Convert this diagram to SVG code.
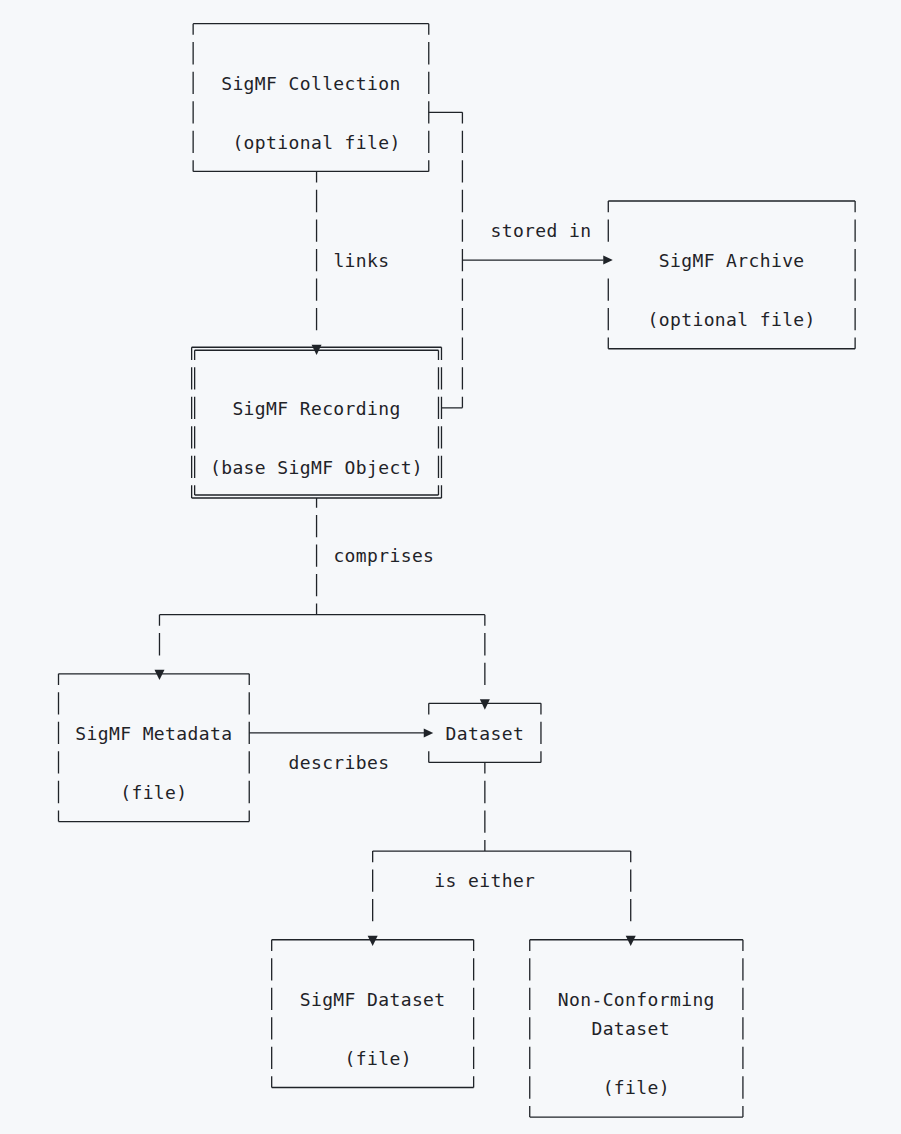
<svg xmlns="http://www.w3.org/2000/svg" width="901" height="1134" viewBox="0 0 901 1134">
<style>
.h{stroke:#1f2328;stroke-width:1.3;fill:none}
.v{stroke:#1f2328;stroke-width:1.3;fill:none;stroke-dasharray:22.3 7.25;stroke-dashoffset:11.15}
.v0{stroke:#1f2328;stroke-width:1.3;fill:none;stroke-dasharray:22.3 7.25;stroke-dashoffset:0}
.arr{fill:#1f2328}
text{font-family:"DejaVu Sans Mono","Liberation Mono",monospace;font-size:18px;letter-spacing:0.38px;fill:#1f2328}
</style>
<rect width="901" height="1134" fill="#f6f8fa"/>
<g id="collection">
<path class="h" d="M193.14 23.7H428.76M193.14 171.45H428.76"/>
<path class="v" d="M193.14 23.7V171.45M428.76 23.7V171.45"/>
<text x="221.19" y="89.5">SigMF Collection</text>
<text x="232.41" y="148.6">(optional file)</text>
</g>
<g id="archive">
<path class="h" d="M608.28 201H855.12M608.28 348.75H855.12"/>
<path class="v" d="M855.12 201V348.75M608.28 201V241.7"/>
<path class="v0" d="M608.28 278.5V348.75"/>
<text x="658.77" y="266.8">SigMF Archive</text>
<text x="647.55" y="325.9">(optional file)</text>
</g>
<g id="recording">
<path class="h" d="M191.64 347.25H441.48M191.64 498H441.48M194.64 350.25H438.48M194.64 495H438.48"/>
<path class="v" style="stroke-dashoffset:9.65" d="M191.64 347.25V498M441.48 347.25V498"/>
<path class="v" style="stroke-dashoffset:12.65" d="M194.64 350.25V495M438.48 350.25V495"/>
<text x="232.41" y="414.55">SigMF Recording</text>
<text x="209.97" y="473.65">(base SigMF Object)</text>
</g>
<g id="metadata">
<path class="h" d="M58.5 673.8H249.24M58.5 821.55H249.24"/>
<path class="v" d="M58.5 673.8V821.55M249.24 673.8V821.55"/>
<text x="75.33" y="739.6">SigMF Metadata</text>
<text x="120.21" y="798.7">(file)</text>
</g>
<g id="dataset">
<path class="h" d="M428.76 703.35H540.96M428.76 762.45H540.96M428.76 703.35V714.5M428.76 751.3V762.45"/>
<path class="v" d="M540.96 703.35V762.45"/>
<text x="445.59" y="739.6">Dataset</text>
</g>
<g id="sigmf-dataset">
<path class="h" d="M271.68 939.75H473.64M271.68 1087.5H473.64"/>
<path class="v" d="M271.68 939.75V1087.5M473.64 939.75V1087.5"/>
<text x="299.73" y="1005.55">SigMF Dataset</text>
<text x="344.61" y="1064.65">(file)</text>
</g>
<g id="non-conforming-dataset">
<path class="h" d="M529.74 939.75H742.92M529.74 1117.05H742.92"/>
<path class="v" d="M529.74 939.75V1117.05M742.92 939.75V1117.05"/>
<text x="557.79" y="1005.55">Non-Conforming</text>
<text x="591.45" y="1035.1">Dataset</text>
<text x="602.67" y="1094.2">(file)</text>
</g>
<g id="connectors">
<path class="v" d="M316.56 171.45V330.35"/>
<polygon class="arr" points="311.56,344.75 321.56,344.75 316.56,355.05"/>
<text x="333.39" y="266.8">links</text>
<path class="h" d="M428.76 112.35H462.42M441.48 407.85H462.42M462.42 260.1H603.5"/>
<path class="v" d="M462.42 112.35V407.85"/>
<polygon class="arr" points="603.28,255.6 603.28,264.6 612.78,260.1"/>
<text x="490.47" y="237.25">stored in</text>
<path class="v" style="stroke-dashoffset:12.65" d="M316.56 498V614.7"/>
<path class="h" d="M159.48 614.7H484.86"/>
<path class="v" d="M159.48 614.7V655.4M484.86 614.7V684.95"/>
<polygon class="arr" points="154.48,669.8 164.48,669.8 159.48,680.1"/>
<polygon class="arr" points="479.86,699.35 489.86,699.35 484.86,709.65"/>
<text x="333.39" y="562.3">comprises</text>
<path class="h" d="M249.24 732.9H424"/>
<polygon class="arr" points="423.76,728.4 423.76,737.4 433.26,732.9"/>
<text x="288.51" y="769.15">describes</text>
<path class="v" d="M484.86 762.45V851.1M372.66 851.1V921.35M630.72 851.1V921.35"/>
<path class="h" d="M372.66 851.1H630.72"/>
<polygon class="arr" points="367.66,935.75 377.66,935.75 372.66,946.05"/>
<polygon class="arr" points="625.72,935.75 635.72,935.75 630.72,946.05"/>
<text x="434.37" y="887.35">is either</text>
</g>
</svg>
